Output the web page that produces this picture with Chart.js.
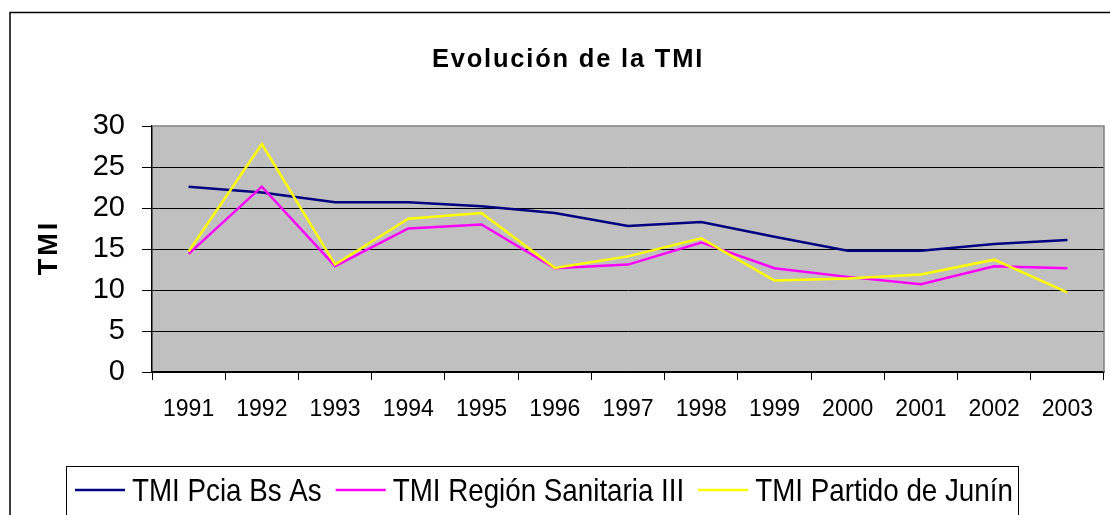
<!DOCTYPE html>
<html>
<head>
<meta charset="utf-8">
<script src="https://cdn.jsdelivr.net/npm/chart.js@4.4.1/dist/chart.umd.min.js"></script>
<style>
html,body{margin:0;padding:0;background:#fff;}
#wrap{width:1110px;height:515px;position:relative;overflow:hidden;}
</style>
</head>
<body>
<div id="wrap"><canvas id="c" width="1110" height="515"></canvas></div>
<script>
const years = ['1991','1992','1993','1994','1995','1996','1997','1998','1999','2000','2001','2002','2003'];
const pciaBsAs = [22.6, 21.9, 20.7, 20.7, 20.2, 19.4, 17.8, 18.3, 16.5, 14.8, 14.8, 15.6, 16.1];
const regionSanitariaIII = [14.4, 22.6, 12.9, 17.5, 18.0, 12.65, 13.1, 15.8, 12.65, 11.6, 10.7, 12.9, 12.65];
const partidoJunin = [14.7, 27.8, 13.1, 18.7, 19.4, 12.7, 14.1, 16.3, 11.15, 11.4, 11.9, 13.7, 9.7];
const seriesLabels = ['TMI Pcia Bs As', 'TMI Región Sanitaria III', 'TMI Partido de Junín'];
const seriesColors = ['#000080', '#FF00FF', '#FFFF00'];
const yTicks = [0, 5, 10, 15, 20, 25, 30];
const chartTitle = 'Evolución de la TMI';
const yAxisTitle = 'TMI';

const FONT = '"Liberation Sans", Arial, sans-serif';

const framePlugin = {
  id: 'frame',
  beforeDraw(chart) {
    const {ctx, chartArea: a} = chart;
    ctx.save();
    ctx.fillStyle = '#fff';
    ctx.fillRect(0, 0, chart.width, chart.height);
    ctx.fillStyle = '#C0C0C0';
    ctx.fillRect(a.left, a.top, a.right - a.left, a.bottom - a.top);
    ctx.strokeStyle = '#000';
    ctx.lineWidth = 1.5;
    ctx.strokeRect(10, 12.5, 1300, 700);
    ctx.restore();
  },
  beforeDatasetsDraw(chart) {
    const {ctx, chartArea: a} = chart;
    ctx.save();
    ctx.strokeStyle = '#808080';
    ctx.lineWidth = 1.5;
    ctx.beginPath();
    ctx.moveTo(a.left, a.top);
    ctx.lineTo(a.right, a.top);
    ctx.lineTo(a.right, a.bottom);
    ctx.stroke();
    ctx.restore();
  },
  afterDraw(chart) {
    const {ctx} = chart;
    ctx.save();
    // title
    ctx.fillStyle = '#000';
    ctx.font = 'bold 25.5px ' + FONT;
    ctx.letterSpacing = '1.8px';
    ctx.textAlign = 'center';
    ctx.textBaseline = 'alphabetic';
    ctx.fillText(chartTitle, 568, 67);
    // y axis title
    ctx.save();
    ctx.translate(57, 249);
    ctx.rotate(-Math.PI / 2);
    ctx.font = 'bold 27px ' + FONT;
    ctx.letterSpacing = '3px';
    ctx.fillText(yAxisTitle, 1.5, 0);
    ctx.restore();
    // legend
    ctx.letterSpacing = '0px';
    ctx.strokeStyle = '#000';
    ctx.lineWidth = 1;
    ctx.strokeRect(66.5, 466.5, 952, 100);
    ctx.font = '30.5px ' + FONT;
    ctx.textAlign = 'left';
    const sx = 0.91;
    let x = 75;
    const ly = 490;
    chart.data.datasets.forEach(ds => {
      ctx.strokeStyle = ds.borderColor;
      ctx.lineWidth = 2.5;
      ctx.beginPath();
      ctx.moveTo(x, ly);
      ctx.lineTo(x + 50, ly);
      ctx.stroke();
      x += 57;
      ctx.fillStyle = '#000';
      ctx.save();
      ctx.translate(x, 500.5);
      ctx.scale(sx, 1);
      ctx.fillText(ds.label, 0, 0);
      ctx.restore();
      x += ctx.measureText(ds.label).width * sx + 14;
    });
    ctx.restore();
  }
};

const mkDs = (label, data, color, order) => ({
  label, data, borderColor: color, backgroundColor: color,
  borderWidth: 2.5, pointRadius: 0, pointHoverRadius: 0, tension: 0, order
});

new Chart(document.getElementById('c'), {
  type: 'line',
  data: {
    labels: years,
    datasets: [
      mkDs(seriesLabels[0], pciaBsAs, seriesColors[0], 3),
      mkDs(seriesLabels[1], regionSanitariaIII, seriesColors[1], 2),
      mkDs(seriesLabels[2], partidoJunin, seriesColors[2], 1)
    ]
  },
  options: {
    responsive: false,
    animation: false,
    devicePixelRatio: 1,
    layout: {padding: {left: 0, right: 6, top: 126, bottom: 0}},
    plugins: {legend: {display: false}, title: {display: false}, tooltip: {enabled: false}},
    scales: {
      x: {
        offset: true,
        grid: {offset: true, drawOnChartArea: false, drawTicks: true, tickLength: 8, tickColor: '#000', tickWidth: 1},
        border: {color: '#000', width: 1.5},
        ticks: {color: '#000', font: {family: FONT, size: 23}, padding: 16, maxRotation: 0, autoSkip: false},
        afterFit(s) { s.height = 143; }
      },
      y: {
        min: 0, max: 30,
        afterBuildTicks(s) { s.ticks = yTicks.map(v => ({value: v})); },
        grid: {
          color: c => (c.tick && c.tick.value === 30) ? 'rgba(0,0,0,0)' : '#000',
          lineWidth: 1, tickLength: 10, tickColor: '#000', tickWidth: 1
        },
        border: {color: '#000', width: 1.5},
        ticks: {color: '#000', font: {family: FONT, size: 29}, padding: 17},
        afterFit(s) { s.width = 152; }
      }
    }
  },
  plugins: [framePlugin]
});
</script>
</body>
</html>
